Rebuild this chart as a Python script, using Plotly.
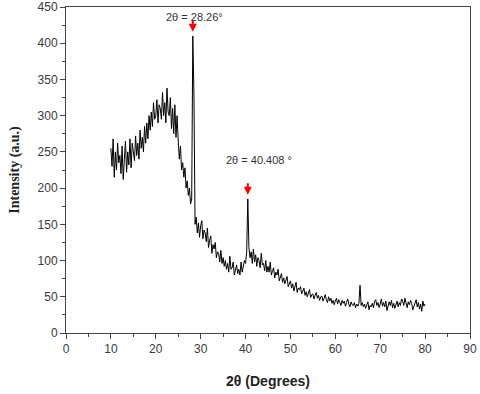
import plotly.graph_objects as go

# XRD scan, 10-80 deg, 0.25 deg step
start_angle = 10.0
step = 0.25
intensity = [
    255, 230, 268, 215,  250, 225, 262, 235,  245, 220, 258, 212,  240, 265, 222, 250,
    232, 268, 228, 262,  250, 238, 272, 245,  262, 240, 280, 255,  270, 250, 285, 262,
    290, 268, 300, 280,  305, 285, 318, 295,  300, 322, 290, 315,  310, 295, 332, 300,
    318, 290, 338, 305,  300, 325, 282, 310,  275, 315, 270, 300,  265, 240, 258, 225,
    235, 215, 228, 200,  210, 190, 200, 178,  185, 410, 330, 150,  160, 138, 152, 132,
    148, 155, 130, 142,  138, 126, 145, 118,  128, 134, 110, 122,  116, 125, 104, 112,
    110, 98, 114, 96,    104, 92, 100, 88,    96, 84, 106, 88,    90, 98, 80, 86,
    94, 82, 88, 80,      98, 84, 92, 100,    96, 112, 185, 118,  104, 112, 96, 116,
    98, 108, 92, 104,    100, 90, 110, 94,   96, 86, 100, 84,    92, 84, 98, 80,
    86, 90, 76, 84,      80, 88, 72, 78,     82, 70, 76, 68,     74, 78, 64, 70,
    72, 62, 68, 58,      66, 70, 56, 62,     60, 64, 54, 58,     62, 52, 57, 50,
    56, 60, 49, 53,      54, 47, 52, 56,     48, 52, 45, 50,     51, 44, 48, 53,
    46, 42, 50, 44,      48, 41, 45, 39,     44, 48, 40, 46,     42, 38, 45, 41,
    44, 37, 42, 47,      40, 36, 43, 39,     38, 42, 35, 40,     37, 41, 66, 38,
    42, 36, 40, 34,      39, 43, 32, 38,     36, 41, 35, 44,     46, 38, 42, 35,
    40, 47, 37, 42,      36, 44, 31, 40,     43, 38, 45, 35,     41, 34, 39, 44,
    36, 42, 38, 47,      44, 38, 48, 40,     35, 43, 39, 45,     41, 32, 38, 42,
    46, 36, 42, 33,      40, 30, 44, 37,
    40,
]
two_theta = [start_angle + step * i for i in range(len(intensity))]

# labelled peaks: position, peak height, label
peak_pos = [28.25, 40.5]
peak_top = [410, 185]
peak_labels = ["2θ = 28.26°", "2θ = 40.408 °"]

x_ticks = [0, 10, 20, 30, 40, 50, 60, 70, 80, 90]
y_ticks = [0, 50, 100, 150, 200, 250, 300, 350, 400, 450]

fig = go.Figure()
fig.add_trace(go.Scatter(
    x=two_theta, y=intensity, mode="lines",
    line=dict(color="black", width=1), showlegend=False,
))

# small red arrows above the peaks, labels above them
label_dx = [0.3, 2.6]
label_dy = [26, 54]
for pos, top, label, dx, dy in zip(peak_pos, peak_top, peak_labels, label_dx, label_dy):
    fig.add_annotation(
        x=pos, y=top + 6, xref="x", yref="y", text="",
        showarrow=True, arrowhead=2, arrowsize=0.8, arrowwidth=2,
        arrowcolor="red", ax=0, ay=-13,
    )
    fig.add_annotation(
        x=pos + dx, y=top + dy, xref="x", yref="y",
        text=label, showarrow=False,
        font=dict(family="Liberation Sans, Arial", size=11, color="#333"),
    )

axis_common = dict(
    showline=True, linecolor="#444", linewidth=1, mirror=True, automargin=False,
    ticks="outside", ticklen=5, tickcolor="#444", showgrid=False, zeroline=False,
    tickfont=dict(family="Liberation Sans, Arial", size=12, color="#3a3a3a"),
)

fig.update_xaxes(
    range=[0, 90], tickvals=x_ticks,
    minor=dict(ticks="outside", ticklen=3, dtick=5, tickcolor="#444"),
    title=dict(text="<b>2θ (Degrees)</b>", standoff=20,
               font=dict(family="Liberation Sans, Arial", size=14, color="#222")),
    **axis_common,
)
fig.update_yaxes(
    range=[0, 450], tickvals=y_ticks,
    minor=dict(ticks="outside", ticklen=3, dtick=25, tickcolor="#444"),
    title=dict(text="<b>Intensity (a.u.)</b>", standoff=14,
               font=dict(family="Liberation Serif, Times New Roman", size=14, color="#222")),
    **axis_common,
)

fig.update_layout(
    width=480, height=394,
    margin=dict(l=66, r=10, t=7, b=61),
    plot_bgcolor="white", paper_bgcolor="white",
)

# drop the default 8px body margin so the figure sits at the window's corner
fig.write_html("out.html", config={"displayModeBar": False},
               post_script="document.body.style.margin='0';")
